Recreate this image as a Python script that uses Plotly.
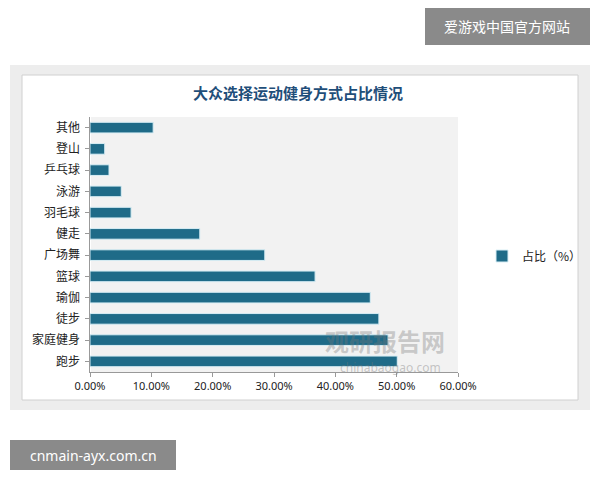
import plotly.graph_objects as go

categories = ["跑步", "家庭健身", "徒步", "瑜伽", "篮球", "广场舞", "健走", "羽毛球", "泳游", "乒乓球", "登山", "其他"]
values = [50.1, 48.6, 47.1, 45.7, 36.7, 28.5, 17.9, 6.7, 5.1, 3.1, 2.4, 10.3]
xticks = [0, 10, 20, 30, 40, 50, 60]
xlabels = ["0.00%", "10.00%", "20.00%", "30.00%", "40.00%", "50.00%", "60.00%"]

W, H = 600, 480
OFF = 8  # page body margin
L, R, T, B = 90, 458, 117, 372
def px(x): return (x - L) / (R - L)
def py(y): return (B - y) / (B - T)

fig = go.Figure(go.Bar(
    y=categories, x=values, orientation="h", name="占比（%）",
    marker=dict(color="#1f6b88", line=dict(color="#d8eef5", width=1)),
    width=0.5, showlegend=True,
))

def rect(x0, y0, x1, y1, fill, line=None):
    return dict(type="rect", xref="paper", yref="paper", x0=px(x0), x1=px(x1), y0=py(y1), y1=py(y0),
                fillcolor=fill, line=line or dict(width=0), layer="below")

shapes = [
    rect(10, 65, 590, 410, "#ededed"),
    rect(22, 75, 578, 400, "white", dict(color="#d0d0d0", width=1)),
    rect(L, T, R, B, "#f2f2f2"),
    rect(425, 8, 590, 45, "#8a8a8a"),
    rect(10, 440, 176, 470, "#8a8a8a"),
]
def ann(text, x, y, size, color, family):
    return dict(text=text, xref="paper", yref="paper", x=px(x), y=py(y), xanchor="center", yanchor="middle",
                showarrow=False, font=dict(size=size, color=color, family=family))

annotations = [
    ann("<b>大众选择运动健身方式占比情况</b>", 298, 93, 15, "#1f4e79", "Noto Sans CJK SC"),
    ann("爱游戏中国官方网站", 507, 26, 14, "white", "Noto Sans CJK SC"),
    ann("cnmain-ayx.com.cn", 93, 455, 14, "white", "Noto Sans"),
    ann("<b>观研报告网</b>", 385, 340, 24, "rgba(120,120,120,0.35)", "Noto Sans CJK SC"),
    ann("chinabaogao.com", 390, 367, 12, "rgba(120,120,120,0.4)", "Noto Sans"),
]

fig.update_layout(
    width=W, height=H, autosize=False,
    margin=dict(l=L - OFF, r=W - R + OFF, t=T - OFF, b=H - B + OFF),
    paper_bgcolor="white", plot_bgcolor="rgba(0,0,0,0)",
    font=dict(family="Noto Sans CJK SC", size=12, color="#222"),
    shapes=shapes, annotations=annotations,
    xaxis=dict(range=[0, 60], tickvals=xticks, ticktext=xlabels, showgrid=False,
               showline=True, linecolor="#999", ticks="outside", ticklen=4, tickcolor="#999",
               tickfont=dict(size=11, family="Noto Sans")),
    yaxis=dict(showline=True, linecolor="#999", ticks="outside", ticklen=4, tickcolor="#999",
               tickfont=dict(size=12), ticksuffix=" "),
    legend=dict(x=px(482), y=py(256), xanchor="left", yanchor="middle",
                font=dict(size=12), bgcolor="rgba(0,0,0,0)", itemwidth=30),
    bargap=0.5,
)
fig.write_html("out.html")
